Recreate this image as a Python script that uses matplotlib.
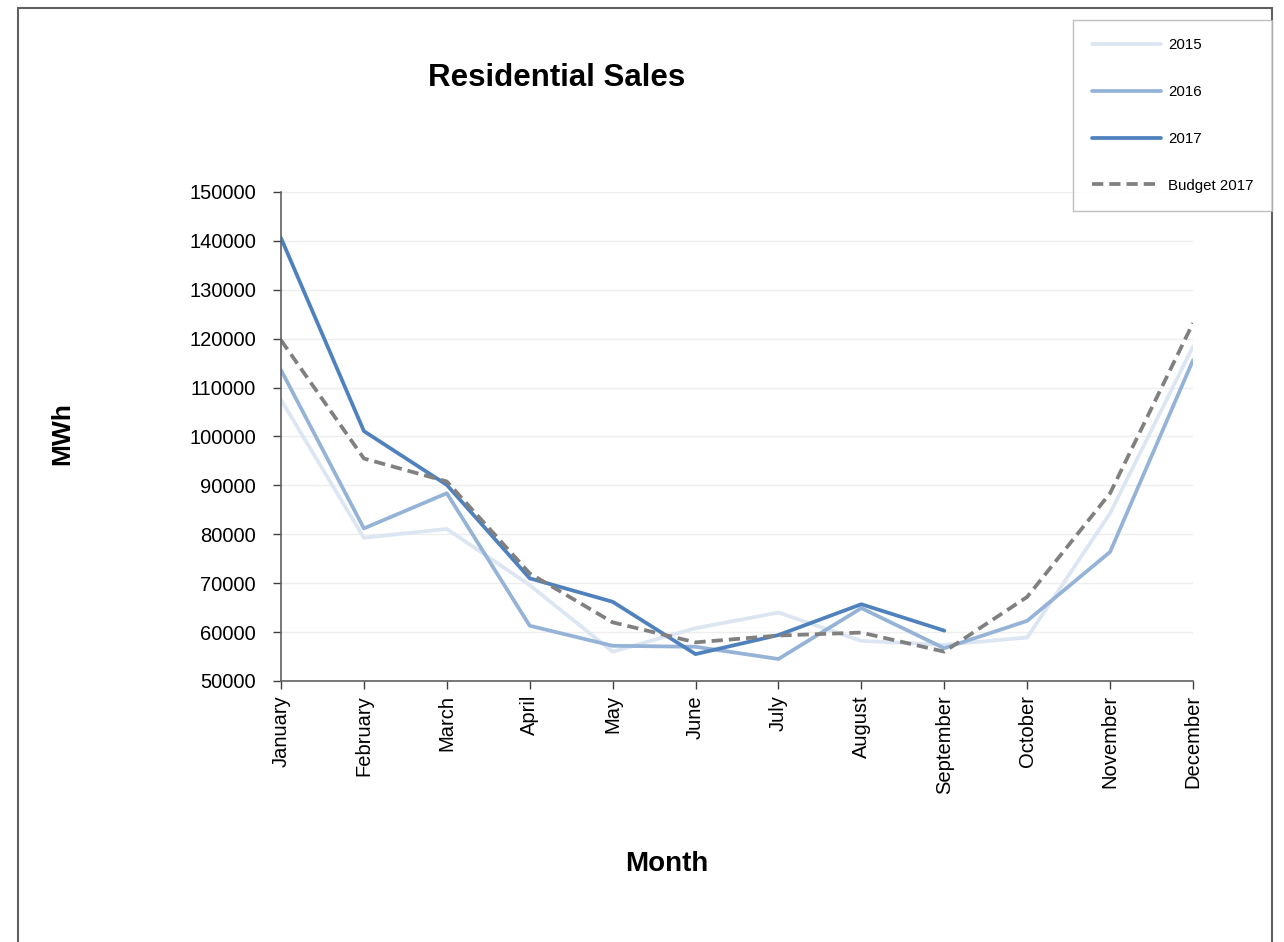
import matplotlib
matplotlib.use("Agg")
import matplotlib.pyplot as plt
from matplotlib.patches import Rectangle

plt.rcParams['font.family'] = ['Liberation Sans', 'DejaVu Sans']

months = ["January", "February", "March", "April", "May", "June", "July",
          "August", "September", "October", "November", "December"]
sales_2015 = [107500, 79300, 81100, 69600, 56000, 60800, 64000, 58200, 57400, 58900, 84300, 118400]
sales_2016 = [113600, 81200, 88400, 61300, 57200, 57000, 54500, 64900, 56700, 62300, 76400, 115600]
sales_2017 = [140600, 101100, 90100, 71000, 66200, 55500, 59400, 65700, 60300]
budget_2017 = [119700, 95500, 90800, 72000, 62000, 57900, 59300, 59900, 56000, 67200, 88400, 123200]
yticks = list(range(50000, 150001, 10000))

W, H = 1284, 942
fig = plt.figure(figsize=(W / 100, H / 100), dpi=100)
ax = fig.add_axes([281 / W, 1 - 681 / H, (1193 - 281) / W, (681 - 192) / H])

x = list(range(len(months)))
ax.plot(x, sales_2015, color="#dce6f2", lw=2.7, label="2015", solid_capstyle='round')
ax.plot(x, sales_2016, color="#95b3d7", lw=2.7, label="2016", solid_capstyle='round')
ax.plot(x[:len(sales_2017)], sales_2017, color="#4f81bd", lw=2.7, label="2017", solid_capstyle='round')
ax.plot(x, budget_2017, color="#808080", lw=2.7, ls=(0, (3, 1.6)), label="Budget 2017")

ax.set_xlim(0, len(months) - 1)
ax.set_ylim(50000, 150000)
ax.set_yticks(yticks)
ax.set_yticklabels([str(v) for v in yticks], fontsize=14.5)
ax.set_xticks(x)
ax.set_xticklabels(months, rotation=90, fontsize=14.5)
ax.tick_params(axis='y', direction='out', length=6, width=1, pad=12, color="#404040")
ax.tick_params(axis='x', direction='out', length=6, width=1, pad=4, color="#404040")
ax.grid(axis='y', color="#eeeeee", lw=1)
ax.set_axisbelow(True)
for s in ["top", "right"]:
    ax.spines[s].set_visible(False)
for s in ["left", "bottom"]:
    ax.spines[s].set_color("#606060")
    ax.spines[s].set_linewidth(1.2)

fig.text(557 / W, 1 - 78 / H, "Residential Sales", ha="center", va="center",
         fontsize=22.5, fontweight="bold")
fig.text(667 / W, 1 - 864 / H, "Month", ha="center", va="center",
         fontsize=20, fontweight="bold")
fig.text(62 / W, 1 - 434 / H, "MWh", ha="center", va="center", rotation=90,
         fontsize=19, fontweight="bold")

leg = fig.legend(loc="upper right", bbox_to_anchor=(1272 / W, 1 - 20 / H),
                 fontsize=10.8, handlelength=4.6, labelspacing=2.18,
                 borderpad=1.23, handletextpad=0.5, fancybox=False,
                 frameon=True, borderaxespad=0)
leg.get_frame().set_edgecolor("#b0b0b0")
leg.get_frame().set_linewidth(1)

fig.patches.append(Rectangle((18 / W, -0.05), (1272 - 18) / W, 1.05 - 8 / H,
                             transform=fig.transFigure, fill=False,
                             edgecolor="#606060", lw=1.5))

fig.savefig("out.png", dpi=100)
